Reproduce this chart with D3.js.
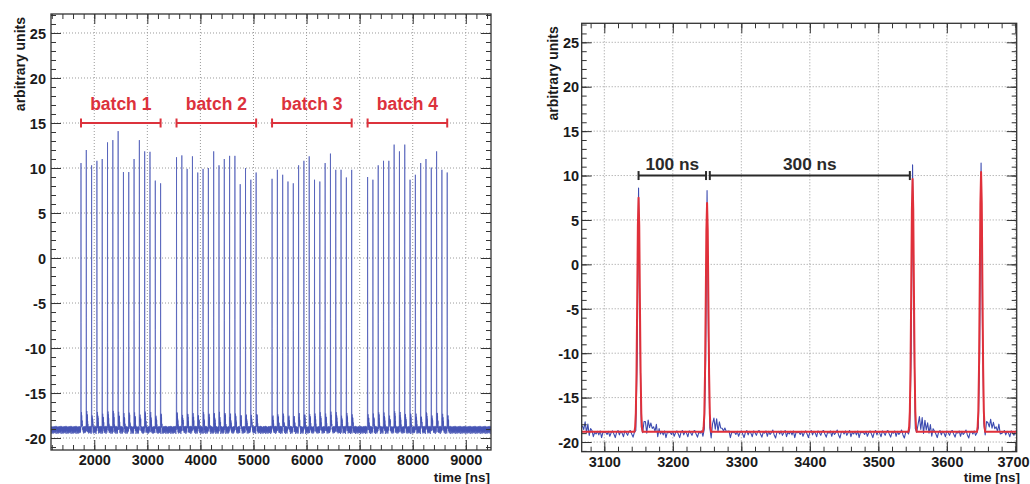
<!DOCTYPE html>
<html>
<head>
<meta charset="utf-8">
<script src="https://cdn.jsdelivr.net/npm/d3@7"></script>
<style>
  body { margin: 0; background: #fff; }
  text { font-family: "Liberation Sans", Arial, Helvetica, sans-serif; font-weight: bold; }
</style>
</head>
<body>
<svg id="chart" width="1030" height="484"></svg>
<script>
// ---- Bunch train: four batches of 16 bunches, 100 ns apart ----
const batchStarts = [1750, 3550, 5350, 7150];
const bunchSpacing = 100;
const batchLabels = ["batch 1", "batch 2", "batch 3", "batch 4"];

// peak amplitude of every bunch, per batch (arbitrary units)
const batch1Peaks = [10.55, 12.0, 10.3, 10.8, 11.0, 12.85, 13.1, 14.1, 9.55, 9.55, 11.0, 13.1, 11.85, 11.8, 8.6, 8.3];
const batch2Peaks = [11.2, 11.4, 9.9, 11.3, 9.5, 9.9, 10.0, 11.85, 10.3, 11.0, 11.35, 11.35, 8.2, 10.0, 8.7, 9.5];
const batch3Peaks = [8.8, 9.8, 9.25, 8.5, 8.3, 10.3, 10.8, 11.3, 8.7, 8.5, 10.55, 11.6, 9.8, 9.8, 8.95, 9.8];
const batch4Peaks = [9.0, 8.7, 10.3, 10.8, 10.8, 12.6, 11.85, 12.6, 8.7, 9.25, 10.55, 11.0, 10.05, 11.85, 9.8, 9.5];

// ---- Raw waveform description ----
const sampleStep = 2;            // ns between samples
const traceBaseline = -18.95;    // pedestal level
// pedestal noise, one entry per sample (repeats along the record)
const noiseSteps = [0.05, -0.2, 0.15, -0.4, 0.0, 0.2, -0.15, -0.55, 0.05, 0.25, -0.25, 0.15, -0.05, -0.45, 0.2, 0.0,
                    -0.3, 0.15, 0.25, -0.15, -0.5, 0.05, -0.05, 0.2, -0.4, 0.15, -0.2, 0.0, 0.3, -0.25, -0.6, 0.05,
                    0.15, -0.15, 0.2, -0.3, 0.0, 0.25, -0.45, 0.05, -0.15, 0.15, -0.25, 0.2, -0.55, 0.05, 0.0];
// single-bunch pulse: offset from the peak (ns) and fraction of peak height, incl. ringing
const pulseOffsets = [-6, -4, -2, 0, 2, 4, 6, 8, 10, 12, 14, 16, 18, 20, 22, 24, 26, 28, 30, 32];
const pulseShape   = [0, 0.01, 0.3, 1.0, 0.4, 0.03, 0.0, 0.035, 0.055, 0.02, 0.05, 0.015, 0.045, 0.01, 0.035, 0.005, 0.025, 0.0, 0.015, 0.0];

// ---- Fitted pulses in the zoomed window ----
const fitBaseline = -18.85;
const fitPeakTimes  = [3150, 3250, 3550, 3650];
const fitPeakValues = [7.5, 6.9, 9.6, 10.4];
const fitOffsets = [-6, -5, -4, -3, -2, -1, 0, 1, 2, 3, 4, 5, 6];
const fitShape   = [0, 0.02, 0.08, 0.25, 0.55, 0.88, 1.0, 0.88, 0.55, 0.25, 0.08, 0.02, 0];

// ---- Spacing annotations in the zoomed window ----
const gapLabels = ["100 ns", "300 ns"];
const gapStarts = [3150, 3254];
const gapEnds   = [3248.5, 3546];
const gapLevel = 10;
const batchLevel = 15;

// ---- Axis ticks ----
const yTicks = [-20, -15, -10, -5, 0, 5, 10, 15, 20, 25];
const leftXTicks = [2000, 3000, 4000, 5000, 6000, 7000, 8000, 9000];
const rightXTicks = [3100, 3200, 3300, 3400, 3500, 3600, 3700];
const xTitle = "time [ns]";
const yTitle = "arbitrary units";

// every bunch as {time, value}
const allPeaks = [batch1Peaks, batch2Peaks, batch3Peaks, batch4Peaks].flatMap((vals, b) =>
  vals.map((v, i) => ({ time: batchStarts[b] + i * bunchSpacing, value: v })));

function buildTrace(t0, t1) {
  const pts = [];
  const first = Math.ceil(t0 / sampleStep);
  const last = Math.floor(t1 / sampleStep);
  const n = noiseSteps.length;
  for (let k = first; k <= last; k++) {
    const t = k * sampleStep;
    let pulse = 0, strongest = 0;
    for (const p of allPeaks) {
      const j = pulseOffsets.indexOf(t - p.time);
      if (j >= 0) {
        pulse += (p.value - traceBaseline) * pulseShape[j];
        strongest = Math.max(strongest, pulseShape[j]);
      }
    }
    const noise = strongest < 0.2 ? noiseSteps[((k % n) + n) % n] : 0;
    pts.push([t, traceBaseline + pulse + noise]);
  }
  return pts;
}

function buildFit(t0, t1) {
  const pts = [[t0, fitBaseline]];
  fitPeakTimes.forEach((tp, i) => {
    fitOffsets.forEach((o, j) => {
      pts.push([tp + o, fitBaseline + (fitPeakValues[i] - fitBaseline) * fitShape[j]]);
    });
  });
  pts.push([t1, fitBaseline]);
  return pts;
}

const svg = d3.select("#chart");
const defs = svg.append("defs");
const plainNumber = d => String(d);   // ASCII hyphen for negatives

function drawPanel(cfg) {
  const x = d3.scaleLinear().domain(cfg.xDomain).range([cfg.left, cfg.right]);
  const y = d3.scaleLinear().domain(cfg.yDomain).range([cfg.bottom, cfg.top]);
  const g = svg.append("g");
  const w = cfg.right - cfg.left, h = cfg.bottom - cfg.top;

  defs.append("clipPath").attr("id", cfg.id + "-clip")
    .append("rect").attr("x", cfg.left).attr("y", cfg.top).attr("width", w).attr("height", h);

  // dotted grid at the major ticks
  const grid = g.append("g").attr("stroke", "#9a9a9a").attr("stroke-width", 1).attr("stroke-dasharray", "1,2");
  grid.selectAll("line.gx").data(cfg.xTicks.filter(d => x(d) > cfg.left + 1 && x(d) < cfg.right - 1)).join("line")
    .attr("x1", d => x(d)).attr("x2", d => x(d)).attr("y1", cfg.top).attr("y2", cfg.bottom);
  grid.selectAll("line.gy").data(yTicks).join("line")
    .attr("x1", cfg.left).attr("x2", cfg.right).attr("y1", d => y(d)).attr("y2", d => y(d));

  // waveform
  const line = d3.line().x(d => x(d[0])).y(d => y(d[1]));
  const plot = g.append("g").attr("clip-path", `url(#${cfg.id}-clip)`);
  plot.append("path").datum(buildTrace(cfg.xDomain[0], cfg.xDomain[1]))
    .attr("fill", "none").attr("stroke", cfg.traceColor).attr("stroke-width", cfg.traceWidth)
    .attr("stroke-linejoin", "round").attr("d", line);
  if (cfg.fit) {
    plot.append("path").datum(buildFit(cfg.xDomain[0], cfg.xDomain[1]))
      .attr("fill", "none").attr("stroke", "#e0303a").attr("stroke-width", 2)
      .attr("stroke-linejoin", "round").attr("d", line);
  }

  // frame
  g.append("rect").attr("x", cfg.left).attr("y", cfg.top).attr("width", w).attr("height", h)
    .attr("fill", "none").attr("stroke", "#333").attr("stroke-width", 1.3);

  // ticks on all four sides, pointing inward
  const majorLen = 10, minorLen = 5;
  function axisGroup(axis, tx, ty, labels) {
    const a = g.append("g").attr("transform", `translate(${tx},${ty})`).call(axis);
    a.select(".domain").remove();
    a.selectAll(".tick line").attr("stroke", "#333").attr("stroke-width", 1);
    if (!labels) a.selectAll(".tick text").remove();
    else a.selectAll(".tick text").attr("fill", "#1a1a1a").attr("font-size", "14.5px").attr("font-family", null);
    return a;
  }
  const xMinor = d3.range(cfg.xMinorStart, cfg.xDomain[1], cfg.xMinorStep);
  const yMinor = d3.range(Math.ceil(cfg.yDomain[0]), cfg.yDomain[1], 1);

  const bottomAxis = axisGroup(d3.axisBottom(x).tickValues(cfg.xTicks).tickSize(-majorLen).tickPadding(5).tickFormat(plainNumber), 0, cfg.bottom, true);
  // keep the outermost label inside the page
  bottomAxis.selectAll(".tick text").attr("dx", d => (x(d) + 16 > 1029 ? 1029 - 16 - x(d) : 0));
  axisGroup(d3.axisBottom(x).tickValues(xMinor).tickSize(-minorLen).tickFormat(""), 0, cfg.bottom, false);
  axisGroup(d3.axisTop(x).tickValues(cfg.xTicks).tickSize(-majorLen).tickFormat(""), 0, cfg.top, false);
  axisGroup(d3.axisTop(x).tickValues(xMinor).tickSize(-minorLen).tickFormat(""), 0, cfg.top, false);
  axisGroup(d3.axisLeft(y).tickValues(yTicks).tickSize(-majorLen).tickPadding(cfg.yLabelPad).tickFormat(plainNumber), cfg.left, 0, true)
    .selectAll(".tick text").attr("dy", "0.36em");
  axisGroup(d3.axisLeft(y).tickValues(yMinor).tickSize(-minorLen).tickFormat(""), cfg.left, 0, false);
  axisGroup(d3.axisRight(y).tickValues(yTicks).tickSize(-majorLen).tickFormat(""), cfg.right, 0, false);
  axisGroup(d3.axisRight(y).tickValues(yMinor).tickSize(-minorLen).tickFormat(""), cfg.right, 0, false);

  // axis titles
  g.append("text").attr("x", cfg.xTitleX).attr("y", 481.5).attr("text-anchor", "end")
    .attr("font-size", "13.5px").attr("fill", "#1a1a1a").text(xTitle);
  g.append("text").attr("transform", `translate(${cfg.yTitleX},${cfg.top + 3}) rotate(-90)`)
    .attr("text-anchor", "end").attr("font-size", "14px").attr("fill", "#1a1a1a").text(yTitle);

  return { g, x, y };
}

function drawSpan(g, x, y, t0, t1, level, color, label, fontSize, textGap) {
  const yy = y(level);
  const s = g.append("g").attr("stroke", color).attr("stroke-width", 2);
  s.append("line").attr("x1", x(t0)).attr("x2", x(t1)).attr("y1", yy).attr("y2", yy);
  s.append("line").attr("x1", x(t0)).attr("x2", x(t0)).attr("y1", yy - 4.5).attr("y2", yy + 4.5);
  s.append("line").attr("x1", x(t1)).attr("x2", x(t1)).attr("y1", yy - 4.5).attr("y2", yy + 4.5);
  g.append("text").attr("x", (x(t0) + x(t1)) / 2).attr("y", yy - textGap)
    .attr("text-anchor", "middle").attr("font-size", fontSize).attr("fill", color).text(label);
}

// full bunch train
const leftPanel = drawPanel({
  id: "train", left: 51, right: 491, top: 14, bottom: 450,
  xDomain: [1185, 9475], yDomain: [-21.33, 27.11],
  xTicks: leftXTicks, xMinorStart: 1200, xMinorStep: 200,
  yLabelPad: 5, xTitleX: 490, yTitleX: 25, traceWidth: 0.7, traceColor: "#4654b4", fit: false
});
batchStarts.forEach((t, i) => {
  drawSpan(leftPanel.g, leftPanel.x, leftPanel.y, t, t + 15 * bunchSpacing, batchLevel,
           "#dc323c", batchLabels[i], "17.5px", 13);
});

// zoom on the gap between batch 1 and batch 2, with fit
const rightPanel = drawPanel({
  id: "zoom", left: 581.7, right: 1016.7, top: 23.3, bottom: 451.7,
  xDomain: [3067, 3702], yDomain: [-21.09, 27.14],
  xTicks: rightXTicks, xMinorStart: 3080, xMinorStep: 20,
  yLabelPad: 2.5, xTitleX: 1020, yTitleX: 558, traceWidth: 1.1, traceColor: "#3c4bb0", fit: true
});
gapLabels.forEach((lab, i) => {
  drawSpan(rightPanel.g, rightPanel.x, rightPanel.y, gapStarts[i], gapEnds[i], gapLevel,
           "#2a2a2a", lab, "17.3px", 6);
});
</script>
</body>
</html>
